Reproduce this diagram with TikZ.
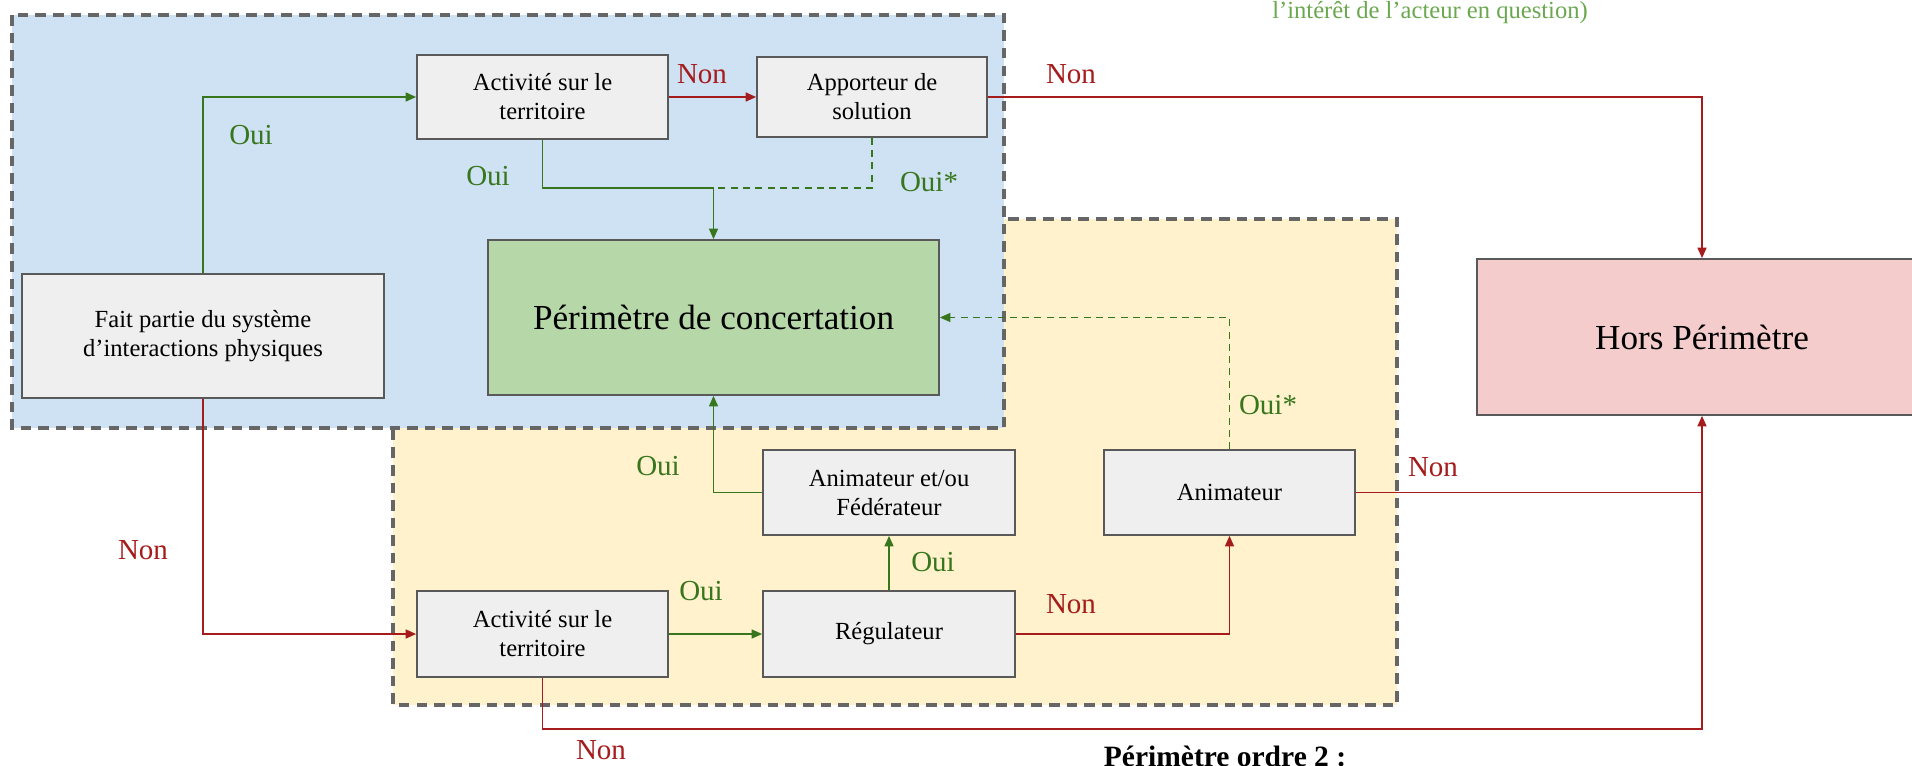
\documentclass[tikz,border=0pt]{standalone}
\usepackage{fontspec}
\setmainfont{Liberation Serif}
\usetikzlibrary{arrows.meta}

\definecolor{zoneblue}{HTML}{CFE2F3}
\definecolor{zoneyellow}{HTML}{FFF2CC}
\definecolor{zoneline}{HTML}{666666}
\definecolor{boxgray}{HTML}{EFEFEF}
\definecolor{boxgreen}{HTML}{B6D7A8}
\definecolor{boxred}{HTML}{F4CCCC}
\definecolor{ouigreen}{HTML}{38761D}
\definecolor{nonred}{HTML}{A61C1C}
\definecolor{notegreen}{HTML}{6AA84F}

\begin{document}
\begin{tikzpicture}[x=0.02cm,y=-0.02cm,
  zone/.style={draw=zoneline,line width=2.2pt,dash pattern=on 6pt off 4pt},
  box/.style={draw=black!65,line width=0.9pt,fill=boxgray,align=center,
    inner sep=0pt,font=\fontsize{14}{16.5}\selectfont},
  bigbox/.style={box,font=\fontsize{20}{24}\selectfont},
  oui/.style={draw=ouigreen,line width=1.1pt},
  non/.style={draw=nonred,line width=1.1pt},
  tip/.style={-{Triangle[width=5pt,length=6pt]}},
  dashline/.style={dash pattern=on 4pt off 3pt},
  ouitext/.style={text=ouigreen,font=\fontsize{16.5}{19}\selectfont},
  nontext/.style={text=nonred,font=\fontsize{16.5}{19}\selectfont}]

\useasboundingbox (0,0) rectangle (1912,765);

% Zones
\draw[zone,fill=zoneyellow] (393,219) rectangle (1397,705);
\draw[zone,fill=zoneblue] (12,15) rectangle (1004,428);

% Notes
\node[anchor=base,text=notegreen,font=\fontsize{14}{16.5}\selectfont] (note) at (1430,18)
{l’intérêt de l’acteur en question)};

\node[anchor=base,font=\bfseries\fontsize{16.8}{20}\selectfont] (ordre) at (1225,766)
{Périmètre ordre 2 :};

%--------------------------------------------------
% Boxes
%--------------------------------------------------
\node[box,minimum width=7.24cm,minimum height=2.48cm] (fait) at (203,336)
{Fait partie du système\\d’interactions physiques};

\node[box,minimum width=5.02cm,minimum height=1.68cm] (act1) at (542.5,97)
{Activité sur le\\territoire};

\node[box,minimum width=4.6cm,minimum height=1.6cm] (app) at (872,97)
{Apporteur de\\solution};

\node[bigbox,fill=boxgreen,minimum width=9.02cm,minimum height=3.1cm] (conc) at (713.5,317.5)
{Périmètre de concertation};

\node[bigbox,fill=boxred,minimum width=9cm,minimum height=3.12cm] (hors) at (1702,337)
{Hors Périmètre};

\node[box,minimum width=5.04cm,minimum height=1.7cm] (anim1) at (889,492.5)
{Animateur et/ou\\Fédérateur};

\node[box,minimum width=5.02cm,minimum height=1.7cm] (anim2) at (1229.5,492.5)
{Animateur};

\node[box,minimum width=5.02cm,minimum height=1.72cm] (act2) at (542.5,634)
{Activité sur le\\territoire};

\node[box,minimum width=5.04cm,minimum height=1.72cm] (reg) at (889,634)
{Régulateur};

%--------------------------------------------------
% Connectors
%--------------------------------------------------
\coordinate (j1) at (713.5,188);
\coordinate (j2) at (542.5,729);

\draw[oui,tip] (fait.north) |- (act1.west);
\draw[non,tip] (fait.south) |- (act2.west);

\draw[non,tip] (act1.east) -- (app.west);
\draw[non,tip] (app.east) -| (hors.north);
\draw[oui] (act1.south) |- (j1);
\draw[oui,dashline] (app.south) |- (j1);
\draw[oui,tip] (j1) -- (conc.north);

\draw[oui,tip] (act2.east) -- (reg.west);
\draw[oui,tip] (reg.north) -- (anim1.south);
\draw[oui,tip] (anim1.west) -| (conc.south);
\draw[non,tip] (reg.east) -| (anim2.south);
\draw[oui,dashline,tip] (anim2.north) |- (conc.east);
\draw[non] (anim2.east) -- (anim2.east -| hors.south);
\draw[non,tip] (act2.south) -- (j2) -| (hors.south);

%--------------------------------------------------
% Labels
%--------------------------------------------------
\node[ouitext] (l1) at (251,135) {Oui};
\node[nontext] (l2) at (702,74) {Non};
\node[nontext] (l3) at (1071,74) {Non};
\node[ouitext] (l4) at (488,176) {Oui};
\node[ouitext] (l5) at (929,182) {Oui*};
\node[ouitext] (l6) at (1268,405) {Oui*};
\node[ouitext] (l7) at (658,466) {Oui};
\node[ouitext] (l8) at (933,562) {Oui};
\node[ouitext] (l9) at (701,591) {Oui};
\node[nontext] (l10) at (1071,604) {Non};
\node[nontext] (l11) at (1433,467) {Non};
\node[nontext] (l12) at (143,550) {Non};
\node[nontext] (l13) at (601,750) {Non};

\end{tikzpicture}
\end{document}
